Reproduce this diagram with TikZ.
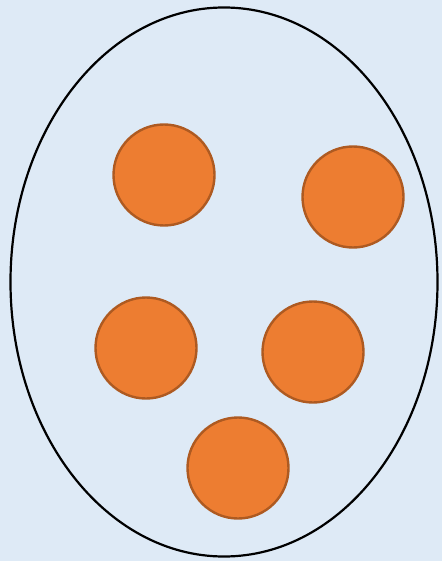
\documentclass[tikz,border=0pt]{standalone}
\definecolor{bgblue}{HTML}{DEEAF6}
\definecolor{ballfill}{HTML}{ED7D31}
\definecolor{ballline}{HTML}{AE5A21}
\tikzset{
  ball/.style={circle,draw=ballline,fill=ballfill,line width=2.4pt,
    minimum size=101pt,inner sep=0pt},
  bag/.style={ellipse,draw=black,line width=2.2pt,
    minimum width=427pt,minimum height=549pt,inner sep=0pt}
}
\usetikzlibrary{shapes.geometric}
\begin{document}
\begin{tikzpicture}[x=1pt,y=-1pt]%
% background and bounding box
\fill[bgblue] (0,0) rectangle (442,561);
\useasboundingbox (0,0) rectangle (442,561);
% the bag
\node[bag] (bag) at (224,282) {};
% the balls
\node[ball] (ballA) at (164,175) {};
\node[ball] (ballB) at (353,197) {};
\node[ball] (ballC) at (146,348) {};
\node[ball] (ballD) at (313,352) {};
\node[ball] (ballE) at (238,468) {};
\end{tikzpicture}
\end{document}
